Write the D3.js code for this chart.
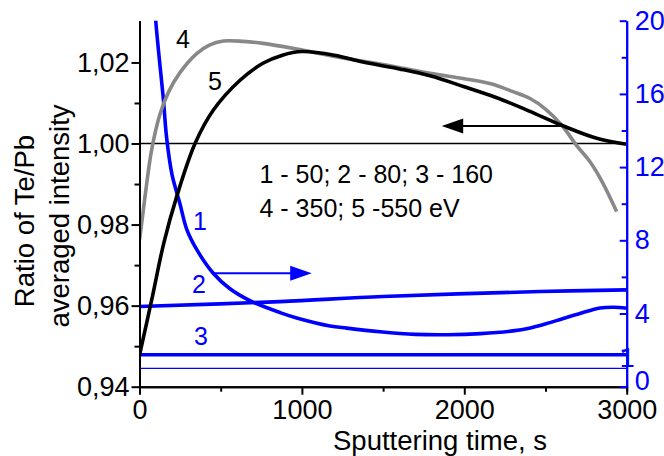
<!DOCTYPE html>
<html>
<head>
<meta charset="utf-8">
<script src="https://cdn.jsdelivr.net/npm/d3@7"></script>
<style>
    body { margin: 0; background: #fff; }
    svg { display: block; font-family: Arial, "Liberation Sans", sans-serif; }
</style>
</head>
<body>
<div id="chart"></div>
<script>
// sputtering time, s  /  ratio (left axis)
var time4 = [0, 14, 40, 75, 126, 180, 249, 352, 430, 516, 640, 762, 968, 1200, 1500, 1789, 2000, 2158, 2300, 2405, 2500, 2600, 2692, 2774, 2850, 2938];
var ratio4 = [0.9762, 0.9805, 0.9888, 0.9985, 1.0072, 1.0128, 1.0175, 1.0222, 1.0243, 1.0253, 1.0252, 1.0247, 1.0233, 1.0215, 1.0195, 1.0173, 1.0160, 1.0148, 1.0128, 1.0111, 1.0085, 1.0045, 0.9995, 0.9955, 0.9905, 0.9832];

var time5 = [0, 75, 150, 229, 342, 454, 619, 760, 880, 1000, 1200, 1376, 1600, 1789, 2000, 2200, 2400, 2600, 2815, 3000];
var ratio5 = [0.9478, 0.9614, 0.9755, 0.9869, 1.0000, 1.0082, 1.0156, 1.0198, 1.0218, 1.0227, 1.0218, 1.0201, 1.0184, 1.0167, 1.0140, 1.0113, 1.0080, 1.0045, 1.0013, 0.9998];

// right axis series (blue)
var time1 = [80, 100, 147, 167, 200, 249, 291, 352, 454, 557, 680, 865, 968, 1173, 1276, 1481, 1700, 1900, 2100, 2300, 2400, 2507, 2600, 2712, 2836, 2920, 3000];
var value1 = [23, 20, 15.7, 13.6, 11.6, 10.0, 8.6, 7.5, 6.2, 5.35, 4.7, 4.05, 3.76, 3.32, 3.2, 3.0, 2.86, 2.84, 2.9, 3.05, 3.2, 3.45, 3.7, 4.0, 4.3, 4.34, 4.29];

var time2 = [0, 865, 1500, 2466, 3000];
var value2 = [4.38, 4.65, 4.93, 5.2, 5.29];

var time3 = [0, 3000];
var value3 = [1.75, 1.75];

var refLeft = 1.00;
var refRight = 1;

var xTicks = [0, 1000, 2000, 3000];
var xMinor = [500, 1500, 2500];
var leftTicks = [0.94, 0.96, 0.98, 1.00, 1.02];
var leftMinor = [0.95, 0.97, 0.99, 1.01];
var rightTicks = [0, 4, 8, 12, 16, 20];
var rightMinor = [2, 6, 10, 14, 18];

var width = 664, height = 456;
var margin = {left: 139.5, right: 37.3, top: 20.7, bottom: 69.3};
var blue = "#0000ff";

var svg = d3.select("#chart").append("svg")
    .attr("width", width)
    .attr("height", height);

var x = d3.scaleLinear().domain([0, 3000]).range([margin.left, width - margin.right]);
var yL = d3.scaleLinear().domain([0.94, 1.0303]).range([height - margin.bottom, margin.top]);
var yR = d3.scaleLinear().domain([0, 20]).range([height - margin.bottom, margin.top]);

svg.append("defs").append("clipPath").attr("id", "plotclip")
    .append("rect")
    .attr("x", margin.left).attr("y", margin.top)
    .attr("width", x(3000) - margin.left)
    .attr("height", yL(0.94) - margin.top);

var commaFmt = function(d) { return d3.format(".2f")(d).replace(".", ","); };

// reference lines
svg.append("line")
    .attr("x1", x(0)).attr("x2", x(3000))
    .attr("y1", yL(refLeft)).attr("y2", yL(refLeft))
    .attr("stroke", "#000").attr("stroke-width", 1.7);
svg.append("line")
    .attr("x1", x(0)).attr("x2", x(3000))
    .attr("y1", yR(refRight)).attr("y2", yR(refRight))
    .attr("stroke", blue).attr("stroke-width", 1.4);

var plot = svg.append("g").attr("clip-path", "url(#plotclip)");

var lineL = d3.line()
    .x(function(d) { return x(d[0]); })
    .y(function(d) { return yL(d[1]); })
    .curve(d3.curveCatmullRom.alpha(0.5));
var lineR = d3.line()
    .x(function(d) { return x(d[0]); })
    .y(function(d) { return yR(d[1]); })
    .curve(d3.curveCatmullRom.alpha(0.5));

var blueSeries = [[time3, value3], [time2, value2], [time1, value1]];
blueSeries.forEach(function(s) {
    plot.append("path")
        .datum(d3.zip(s[0], s[1]))
        .attr("d", lineR)
        .attr("fill", "none")
        .attr("stroke", blue)
        .attr("stroke-width", 3.6);
});

plot.append("path")
    .datum(d3.zip(time4, ratio4))
    .attr("d", lineL)
    .attr("fill", "none")
    .attr("stroke", "#888888")
    .attr("stroke-width", 3.6);
plot.append("path")
    .datum(d3.zip(time5, ratio5))
    .attr("d", lineL)
    .attr("fill", "none")
    .attr("stroke", "#000")
    .attr("stroke-width", 3.6);

// axes
function styleAxis(g, color) {
    g.selectAll("path.domain").attr("stroke", color).attr("stroke-width", 2);
    g.selectAll(".tick line").attr("stroke", color).attr("stroke-width", 2);
    g.selectAll("text").attr("fill", color).style("font-size", "27px")
        .style("font-family", "Arial, 'Liberation Sans', sans-serif");
}

var gx = svg.append("g").attr("transform", "translate(0," + yL(0.94) + ")");
gx.call(d3.axisBottom(x).tickValues(xMinor).tickSize(5).tickFormat(""));
gx.append("g").call(d3.axisBottom(x).tickValues(xTicks).tickSize(8).tickPadding(5)
    .tickFormat(d3.format("d")).tickSizeOuter(0));
styleAxis(gx, "#000");

var gl = svg.append("g").attr("transform", "translate(" + x(0) + ",0)");
gl.call(d3.axisLeft(yL).tickValues(leftMinor).tickSize(5).tickFormat("").tickSizeOuter(0));
gl.append("g").call(d3.axisLeft(yL).tickValues(leftTicks).tickSize(8).tickPadding(2).tickFormat(commaFmt).tickSizeOuter(0));
styleAxis(gl, "#000");

var gr = svg.append("g").attr("transform", "translate(" + x(3000) + ",0)");
gr.call(d3.axisLeft(yR).tickValues(rightMinor).tickSize(5).tickFormat("").tickSizeOuter(0));
gr.append("g").call(d3.axisLeft(yR).tickValues(rightTicks).tickSize(7).tickFormat(d3.format("d")).tickSizeOuter(0));
styleAxis(gr, blue);
// labels sit outside the axis, ticks point inwards
gr.selectAll("text").attr("text-anchor", "start").attr("x", 8);
gr.selectAll(".tick text").filter(function(d) { return d === 0; }).attr("dy", "0.1em");
gr.append("text")
    .attr("x", 8).attr("y", yR(refRight) - 1.5)
    .attr("fill", blue).style("font-size", "27px")
    .text("1");

// axis titles
svg.append("text")
    .attr("transform", "translate(33.5,221) rotate(-90)")
    .attr("text-anchor", "middle")
    .style("font-size", "27.5px")
    .text("Ratio of Te/Pb");
svg.append("text")
    .attr("transform", "translate(68.5,216) rotate(-90)")
    .attr("text-anchor", "middle")
    .style("font-size", "27.5px")
    .text("averaged intensity");
svg.append("text")
    .attr("x", 440).attr("y", 450)
    .attr("text-anchor", "middle")
    .style("font-size", "27.5px")
    .text("Sputtering time, s");

// curve numbers
var numLabels = [
    {t: "4", x: 176, y: 48, c: "#000"},
    {t: "5", x: 208, y: 90, c: "#000"},
    {t: "1", x: 193, y: 230, c: blue},
    {t: "2", x: 192, y: 293, c: blue},
    {t: "3", x: 194, y: 345, c: blue}
];
svg.selectAll("text.num").data(numLabels).enter()
    .append("text")
    .attr("class", "num")
    .attr("x", function(d) { return d.x; })
    .attr("y", function(d) { return d.y; })
    .attr("fill", function(d) { return d.c; })
    .style("font-size", "25px")
    .text(function(d) { return d.t; });

// legend text
svg.append("text").attr("x", 259.5).attr("y", 183.3).style("font-size", "25px")
    .text("1 - 50; 2 - 80; 3 - 160");
svg.append("text").attr("x", 259.5).attr("y", 216.7).style("font-size", "25px")
    .text("4 - 350; 5 -550 eV");

// arrows pointing to the axis used
function arrow(x1, x2, yy, color) {
    var dir = x2 > x1 ? 1 : -1;
    svg.append("line")
        .attr("x1", x1).attr("x2", x2 - dir * 10)
        .attr("y1", yy).attr("y2", yy)
        .attr("stroke", color).attr("stroke-width", 2);
    svg.append("path")
        .attr("d", "M" + x2 + "," + yy + "L" + (x2 - dir * 21.5) + "," + (yy - 7.5) + "L" + (x2 - dir * 21.5) + "," + (yy + 7.5) + "Z")
        .attr("fill", color);
}
arrow(561.7, 441.7, yL(1.0043), "#000");
arrow(213, 311.7, yR(6.2), blue);
</script>
</body>
</html>
